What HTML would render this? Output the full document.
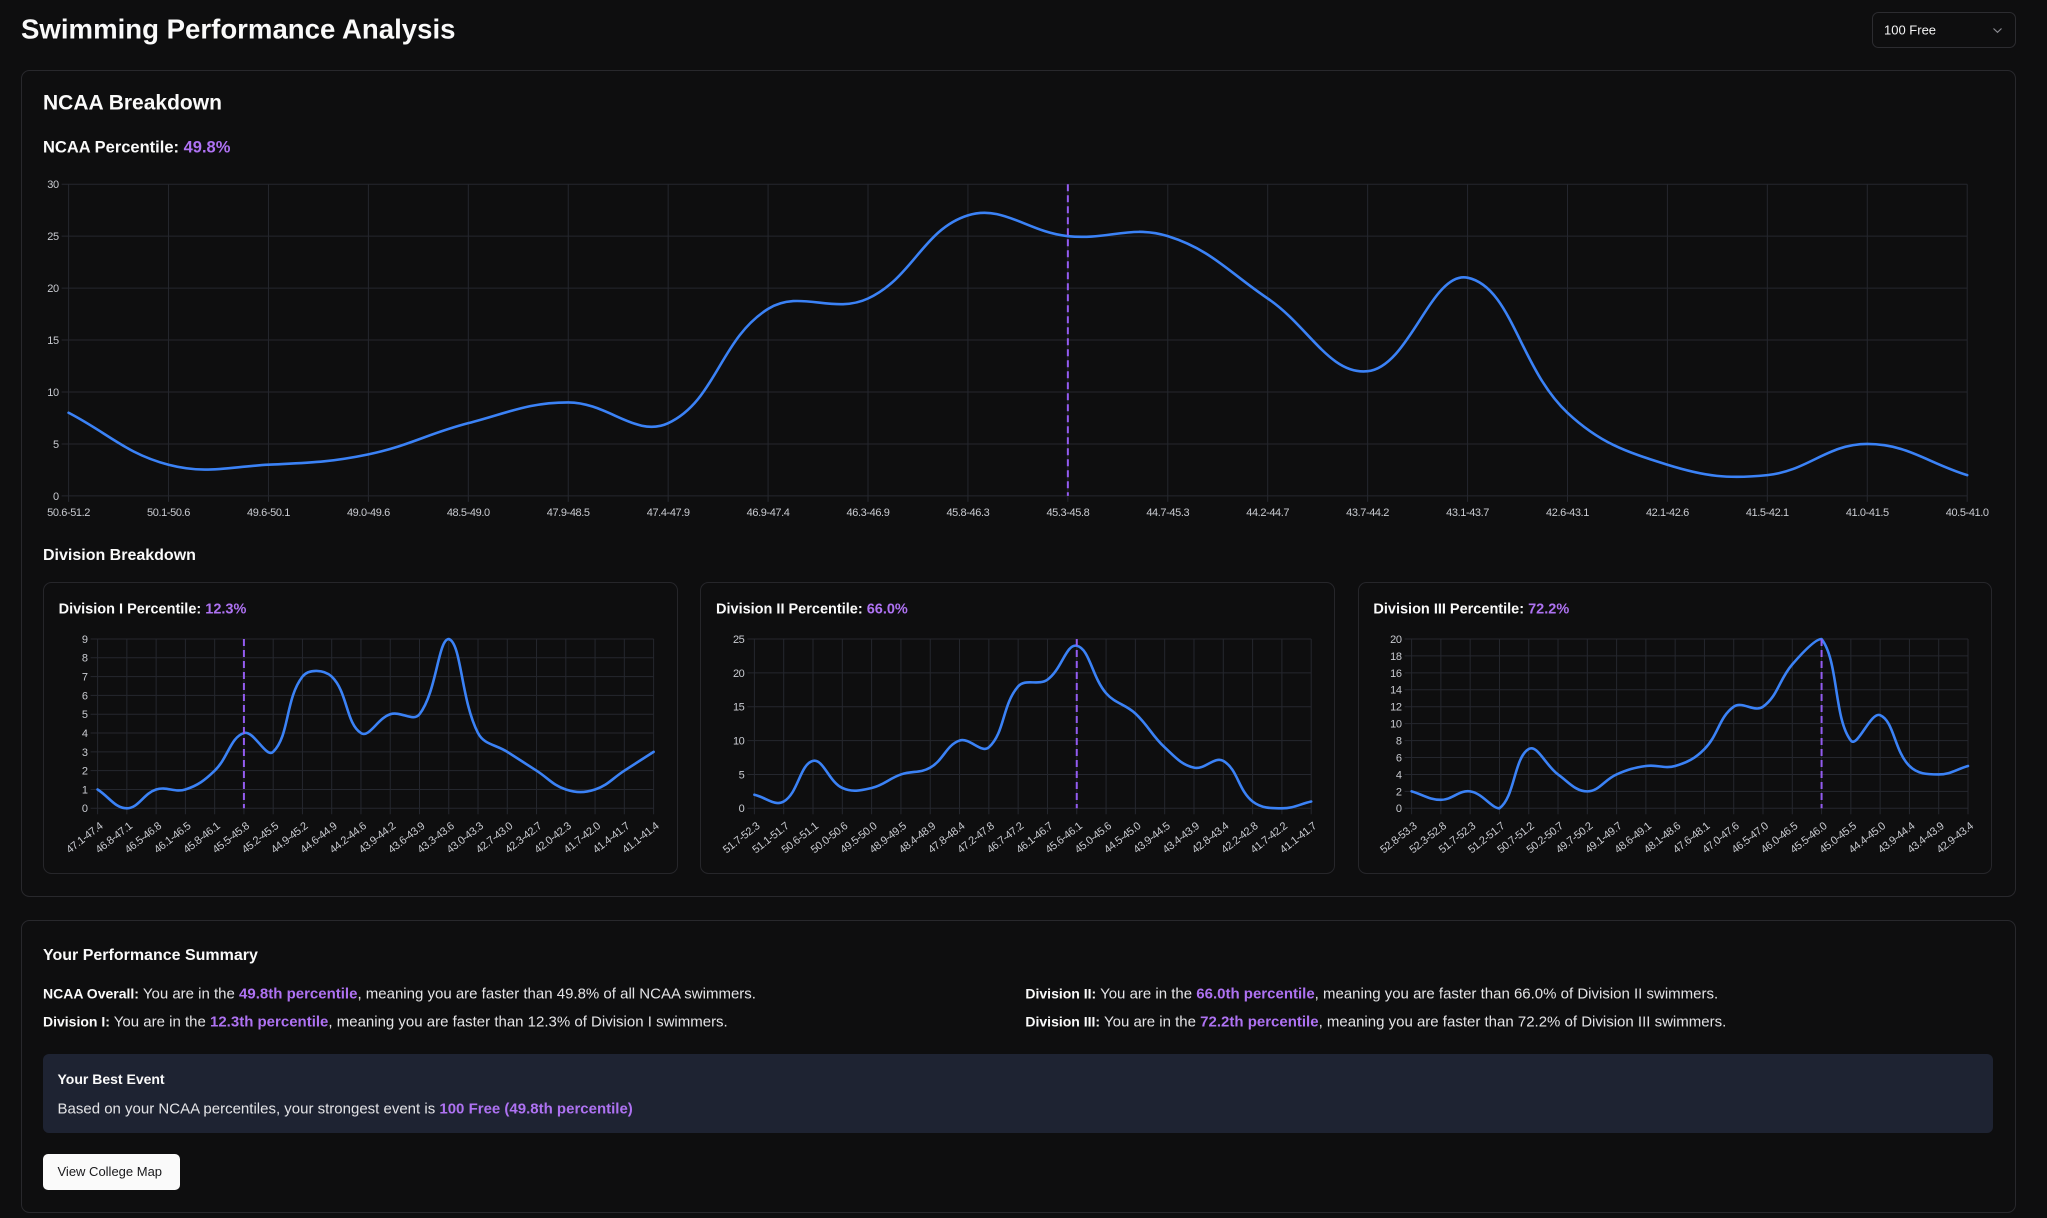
<!DOCTYPE html>
<html><head><meta charset="utf-8"><title>Swimming Performance Analysis</title>
<style>
html,body{margin:0;padding:0;background:#0e0e0f;}
body{width:2047px;height:1218px;overflow:hidden;}
svg{display:block;font-family:"Liberation Sans",Arial,sans-serif;}
.t{fill:#fafafa;font-weight:bold;}
.b{fill:#e4e4e7;font-size:15px;}
.lb{fill:#fafafa;font-weight:bold;font-size:14px;}
.p{fill:#ae72f2;font-weight:bold;}
.ax{fill:#c9cbd1;font-size:11px;letter-spacing:-0.4px;}
.grid line{stroke:#25272e;stroke-width:1;}
</style></head>
<body>
<svg id="s" width="2047" height="1218" viewBox="0 0 2047 1218" xmlns="http://www.w3.org/2000/svg">
<rect x="0" y="0" width="2047" height="1218" fill="#0e0e0f"/>
<text class="t" x="21" y="38.5" font-size="27.6">Swimming Performance Analysis</text>
<rect x="1872.5" y="12.5" width="143" height="35" rx="6" fill="#0e0e0f" stroke="#2c2c30"/>
<text x="1884" y="34.3" font-size="13" fill="#f4f4f5">100 Free</text>
<polyline points="1993.5,28.5 1997.5,32.3 2001.5,28.5" fill="none" stroke="#8a8a90" stroke-width="1.2"/>

<rect x="21.5" y="70.5" width="1994" height="826" rx="8" fill="none" stroke="#28282c"/>
<text class="t" x="43" y="109.5" font-size="21">NCAA Breakdown</text>
<text class="t" x="43" y="152.5" font-size="16.5">NCAA Percentile: <tspan class="p">49.8%</tspan></text>

<g id="g0" class="grid"></g>
<g class="ax" text-anchor="end">
<text x="58.7" y="499.8">0</text><text x="58.7" y="447.9">5</text><text x="58.7" y="395.8">10</text><text x="58.7" y="344">15</text><text x="58.7" y="292">20</text><text x="58.7" y="240.1">25</text><text x="58.7" y="188.1">30</text>
</g>
<g class="ax" text-anchor="middle">
<text x="68.6" y="516.2">50.6-51.2</text><text x="168.5" y="516.2">50.1-50.6</text><text x="268.5" y="516.2">49.6-50.1</text><text x="368.4" y="516.2">49.0-49.6</text><text x="468.3" y="516.2">48.5-49.0</text><text x="568.2" y="516.2">47.9-48.5</text><text x="668.2" y="516.2">47.4-47.9</text><text x="768.1" y="516.2">46.9-47.4</text><text x="868" y="516.2">46.3-46.9</text><text x="967.9" y="516.2">45.8-46.3</text><text x="1067.9" y="516.2">45.3-45.8</text><text x="1167.8" y="516.2">44.7-45.3</text><text x="1267.7" y="516.2">44.2-44.7</text><text x="1367.6" y="516.2">43.7-44.2</text><text x="1467.6" y="516.2">43.1-43.7</text><text x="1567.5" y="516.2">42.6-43.1</text><text x="1667.4" y="516.2">42.1-42.6</text><text x="1767.3" y="516.2">41.5-42.1</text><text x="1867.3" y="516.2">41.0-41.5</text><text x="1967.2" y="516.2">40.5-41.0</text>
</g>

<text class="t" x="43" y="560" font-size="16">Division Breakdown</text>

<rect x="43.5" y="582.5" width="634" height="291" rx="8" fill="none" stroke="#26262a"/>
<rect x="700.5" y="582.5" width="634" height="291" rx="8" fill="none" stroke="#26262a"/>
<rect x="1358.5" y="582.5" width="633" height="291" rx="8" fill="none" stroke="#26262a"/>
<text class="t" x="58.6" y="613.3" font-size="14.5">Division I Percentile: <tspan class="p">12.3%</tspan></text>
<text class="t" x="716" y="613.3" font-size="14.5">Division II Percentile: <tspan class="p">66.0%</tspan></text>
<text class="t" x="1373.4" y="613.3" font-size="14.5">Division III Percentile: <tspan class="p">72.2%</tspan></text>

<g id="g1" class="grid"></g>
<g id="g2" class="grid"></g>
<g id="g3" class="grid"></g>

<g class="ax" text-anchor="end">
<text x="87.6" y="812.2">0</text><text x="87.6" y="793.4">1</text><text x="87.6" y="774.6">2</text><text x="87.6" y="755.8">3</text><text x="87.6" y="737">4</text><text x="87.6" y="718.2">5</text><text x="87.6" y="699.3">6</text><text x="87.6" y="680.5">7</text><text x="87.6" y="661.7">8</text><text x="87.6" y="642.9">9</text>
</g>
<g class="ax" text-anchor="end">
<text x="744.4" y="812.2">0</text><text x="744.4" y="778.3">5</text><text x="744.4" y="744.5">10</text><text x="744.4" y="710.6">15</text><text x="744.4" y="676.8">20</text><text x="744.4" y="642.9">25</text>
</g>
<g class="ax" text-anchor="end">
<text x="1401.6" y="812.2">0</text><text x="1401.6" y="795.3">2</text><text x="1401.6" y="778.3">4</text><text x="1401.6" y="761.4">6</text><text x="1401.6" y="744.5">8</text><text x="1401.6" y="727.6">10</text><text x="1401.6" y="710.6">12</text><text x="1401.6" y="693.7">14</text><text x="1401.6" y="676.8">16</text><text x="1401.6" y="659.8">18</text><text x="1401.6" y="642.9">20</text>
</g>

<g class="ax" text-anchor="end">
<text transform="translate(98.6,821) rotate(-38)" y="8">47.1-47.4</text>
<text transform="translate(127.9,821) rotate(-38)" y="8">46.8-47.1</text>
<text transform="translate(157.1,821) rotate(-38)" y="8">46.5-46.8</text>
<text transform="translate(186.4,821) rotate(-38)" y="8">46.1-46.5</text>
<text transform="translate(215.7,821) rotate(-38)" y="8">45.8-46.1</text>
<text transform="translate(244.9,821) rotate(-38)" y="8">45.5-45.8</text>
<text transform="translate(274.2,821) rotate(-38)" y="8">45.2-45.5</text>
<text transform="translate(303.4,821) rotate(-38)" y="8">44.9-45.2</text>
<text transform="translate(332.7,821) rotate(-38)" y="8">44.6-44.9</text>
<text transform="translate(362,821) rotate(-38)" y="8">44.2-44.6</text>
<text transform="translate(391.2,821) rotate(-38)" y="8">43.9-44.2</text>
<text transform="translate(420.5,821) rotate(-38)" y="8">43.6-43.9</text>
<text transform="translate(449.8,821) rotate(-38)" y="8">43.3-43.6</text>
<text transform="translate(479,821) rotate(-38)" y="8">43.0-43.3</text>
<text transform="translate(508.3,821) rotate(-38)" y="8">42.7-43.0</text>
<text transform="translate(537.5,821) rotate(-38)" y="8">42.3-42.7</text>
<text transform="translate(566.8,821) rotate(-38)" y="8">42.0-42.3</text>
<text transform="translate(596.1,821) rotate(-38)" y="8">41.7-42.0</text>
<text transform="translate(625.3,821) rotate(-38)" y="8">41.4-41.7</text>
<text transform="translate(654.6,821) rotate(-38)" y="8">41.1-41.4</text>
</g>
<g class="ax" text-anchor="end">
<text transform="translate(755.4,821) rotate(-38)" y="8">51.7-52.3</text>
<text transform="translate(784.7,821) rotate(-38)" y="8">51.1-51.7</text>
<text transform="translate(814,821) rotate(-38)" y="8">50.6-51.1</text>
<text transform="translate(843.3,821) rotate(-38)" y="8">50.0-50.6</text>
<text transform="translate(872.6,821) rotate(-38)" y="8">49.5-50.0</text>
<text transform="translate(901.9,821) rotate(-38)" y="8">48.9-49.5</text>
<text transform="translate(931.2,821) rotate(-38)" y="8">48.4-48.9</text>
<text transform="translate(960.5,821) rotate(-38)" y="8">47.8-48.4</text>
<text transform="translate(989.8,821) rotate(-38)" y="8">47.2-47.8</text>
<text transform="translate(1019.2,821) rotate(-38)" y="8">46.7-47.2</text>
<text transform="translate(1048.5,821) rotate(-38)" y="8">46.1-46.7</text>
<text transform="translate(1077.8,821) rotate(-38)" y="8">45.6-46.1</text>
<text transform="translate(1107.1,821) rotate(-38)" y="8">45.0-45.6</text>
<text transform="translate(1136.4,821) rotate(-38)" y="8">44.5-45.0</text>
<text transform="translate(1165.7,821) rotate(-38)" y="8">43.9-44.5</text>
<text transform="translate(1195,821) rotate(-38)" y="8">43.4-43.9</text>
<text transform="translate(1224.3,821) rotate(-38)" y="8">42.8-43.4</text>
<text transform="translate(1253.6,821) rotate(-38)" y="8">42.2-42.8</text>
<text transform="translate(1282.9,821) rotate(-38)" y="8">41.7-42.2</text>
<text transform="translate(1312.2,821) rotate(-38)" y="8">41.1-41.7</text>
</g>
<g class="ax" text-anchor="end">
<text transform="translate(1412.6,821) rotate(-38)" y="8">52.8-53.3</text>
<text transform="translate(1441.9,821) rotate(-38)" y="8">52.3-52.8</text>
<text transform="translate(1471.2,821) rotate(-38)" y="8">51.7-52.3</text>
<text transform="translate(1500.5,821) rotate(-38)" y="8">51.2-51.7</text>
<text transform="translate(1529.7,821) rotate(-38)" y="8">50.7-51.2</text>
<text transform="translate(1559,821) rotate(-38)" y="8">50.2-50.7</text>
<text transform="translate(1588.3,821) rotate(-38)" y="8">49.7-50.2</text>
<text transform="translate(1617.6,821) rotate(-38)" y="8">49.1-49.7</text>
<text transform="translate(1646.9,821) rotate(-38)" y="8">48.6-49.1</text>
<text transform="translate(1676.2,821) rotate(-38)" y="8">48.1-48.6</text>
<text transform="translate(1705.4,821) rotate(-38)" y="8">47.6-48.1</text>
<text transform="translate(1734.7,821) rotate(-38)" y="8">47.0-47.6</text>
<text transform="translate(1764,821) rotate(-38)" y="8">46.5-47.0</text>
<text transform="translate(1793.3,821) rotate(-38)" y="8">46.0-46.5</text>
<text transform="translate(1822.6,821) rotate(-38)" y="8">45.5-46.0</text>
<text transform="translate(1851.9,821) rotate(-38)" y="8">45.0-45.5</text>
<text transform="translate(1881.1,821) rotate(-38)" y="8">44.4-45.0</text>
<text transform="translate(1910.4,821) rotate(-38)" y="8">43.9-44.4</text>
<text transform="translate(1939.7,821) rotate(-38)" y="8">43.4-43.9</text>
<text transform="translate(1969,821) rotate(-38)" y="8">42.9-43.4</text>
</g>

<g id="lines"></g>

<rect x="21.5" y="920.5" width="1994" height="292" rx="8" fill="none" stroke="#28282c"/>
<text class="t" x="43" y="960" font-size="16">Your Performance Summary</text>
<text x="43" y="998.3" class="b"><tspan class="lb">NCAA Overall:</tspan> You are in the <tspan class="p">49.8th percentile</tspan>, meaning you are faster than 49.8% of all NCAA swimmers.</text>
<text x="43" y="1026.5" class="b"><tspan class="lb">Division I:</tspan> You are in the <tspan class="p">12.3th percentile</tspan>, meaning you are faster than 12.3% of Division I swimmers.</text>
<text x="1025.4" y="998.3" class="b"><tspan class="lb">Division II:</tspan> You are in the <tspan class="p">66.0th percentile</tspan>, meaning you are faster than 66.0% of Division II swimmers.</text>
<text x="1025.4" y="1026.5" class="b"><tspan class="lb">Division III:</tspan> You are in the <tspan class="p">72.2th percentile</tspan>, meaning you are faster than 72.2% of Division III swimmers.</text>

<rect x="43" y="1054" width="1950" height="79" rx="6" fill="#1e2332"/>
<text x="57.5" y="1084" class="lb">Your Best Event</text>
<text x="57.5" y="1113.3" class="b">Based on your NCAA percentiles, your strongest event is <tspan class="p">100 Free (49.8th percentile)</tspan></text>

<rect x="43" y="1154" width="137" height="36" rx="5" fill="#fafafa"/>
<text x="57.5" y="1176" font-size="13" fill="#18181b">View College Map</text>
</svg>
<script>
(function(){
var NS="http://www.w3.org/2000/svg";
function el(tag,attrs,parent){var e=document.createElementNS(NS,tag);for(var k in attrs)e.setAttribute(k,attrs[k]);parent.appendChild(e);return e;}
function clamp(v,a,b){return v<a?a:(v>b?b:v);}
function build(gid,L,R,T,B,max,step,vals,ref){
 var g=document.getElementById(gid),lines=document.getElementById("lines");
 var n=vals.length,dx=(R-L)/(n-1),xs=[],ys=[],i,t=0.4;
 for(i=0;i<n;i++){xs.push(L+i*dx);ys.push(B-vals[i]/max*(B-T));}
 for(var v=0;v<=max+1e-9;v+=step){var y=B-v/max*(B-T);el("line",{x1:L-7,y1:y,x2:R,y2:y},g);}
 for(i=0;i<n;i++){el("line",{x1:xs[i],y1:T,x2:xs[i],y2:B+6},g);}
 var c1=[],c2=[];
 for(i=0;i<n;i++){
  var pi=i>0?i-1:i, ni=i<n-1?i+1:i;
  var d01=Math.hypot(xs[i]-xs[pi],ys[i]-ys[pi]), d12=Math.hypot(xs[ni]-xs[i],ys[ni]-ys[i]);
  var s01=d01/(d01+d12), s12=d12/(d01+d12);
  if(isNaN(s01))s01=0; if(isNaN(s12))s12=0;
  var fa=t*s01, fb=t*s12, wx=xs[ni]-xs[pi], wy=ys[ni]-ys[pi];
  c1.push([clamp(xs[i]-fa*wx,L,R),clamp(ys[i]-fa*wy,T,B)]);
  c2.push([clamp(xs[i]+fb*wx,L,R),clamp(ys[i]+fb*wy,T,B)]);
 }
 var d="M"+xs[0]+","+ys[0];
 for(i=0;i<n-1;i++){d+="C"+c2[i][0]+","+c2[i][1]+","+c1[i+1][0]+","+c1[i+1][1]+","+xs[i+1]+","+ys[i+1];}
 el("path",{d:d,fill:"none",stroke:"#3b82f6","stroke-width":"2.6","stroke-linejoin":"round","stroke-linecap":"round"},lines);
 el("line",{x1:xs[ref],y1:T,x2:xs[ref],y2:B,stroke:"#935cf0","stroke-width":"2","stroke-dasharray":"7 4"},lines);
}
build("g0",68.6,1967.2,184.2,495.9,30,5,[8,3,3,4,7,9,7,18,19,27,25,25,19,12,21,8,3,2,5,2],10);
build("g1",97.6,653.6,639,808.3,9,1,[1,0,1,1,2,4,3,7,7,4,5,5,9,4,3,2,1,1,2,3],5);
build("g2",754.4,1311.2,639,808.3,25,5,[2,1,7,3,3,5,6,10,9,18,19,24,17,14,9,6,7,1,0,1],11);
build("g3",1411.6,1968,639,808.3,20,2,[2,1,2,0,7,4,2,4,5,5,7,12,12,17,20,8,11,5,4,5],14);
})();
</script>
</body></html>
